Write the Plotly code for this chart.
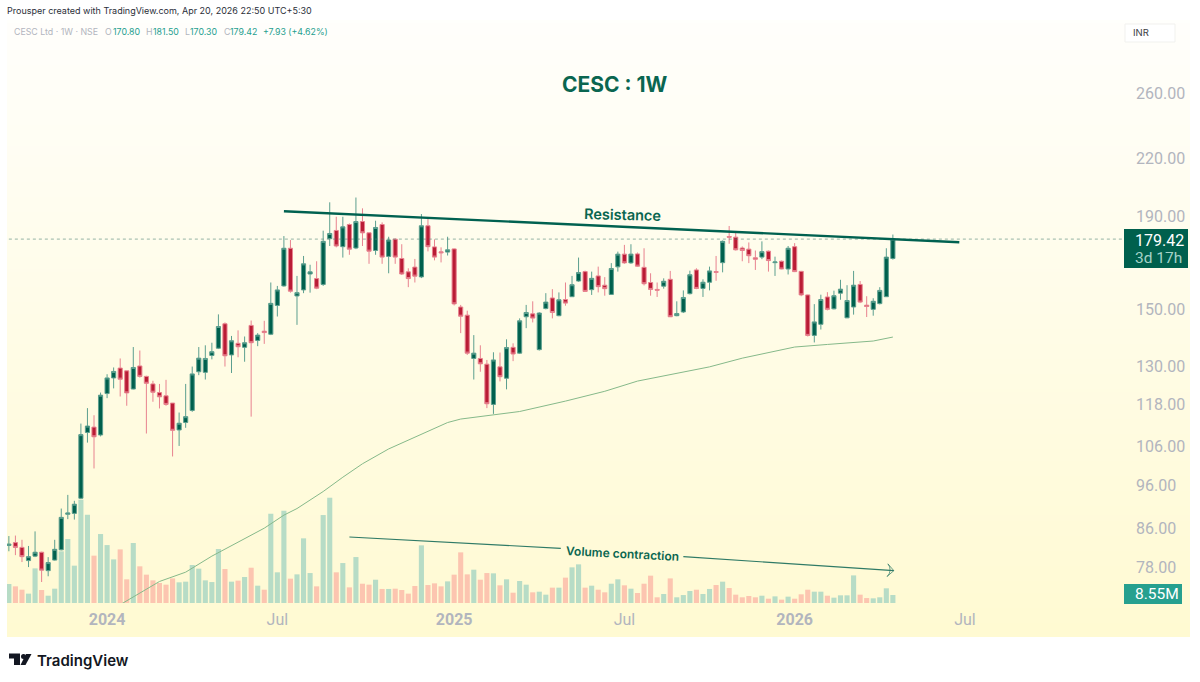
import numpy as np
import pandas as pd
import plotly.graph_objects as go

# weekly candles, CESC Ltd NSE
week_start = "2023-09-18"
n_weeks = 136

opens = [82.4,83.0,82.0,79.3,80.2,81.0,77.3,79.4,81.5,89.2,89.4,92.9,109.8,111.3,109.1,121.2,126.1,129.3,128.4,122.6,130.0,126.6,124.2,121.5,120.5,118.3,110.5,112.6,116.1,128.1,127.9,133.5,136.0,144.7,133.7,137.7,136.3,144.1,138.7,142.0,140.9,151.6,159.3,175.3,155.3,157.7,164.2,162.3,159.9,179.6,183.4,176.0,186.2,175.4,187.6,182.3,174.3,186.2,171.7,179.4,170.8,165.1,167.1,163.0,185.6,175.9,173.7,173.6,175.0,151.0,147.9,132.5,132.5,130.6,117.9,129.7,126.0,136.3,134.3,147.3,148.4,135.5,150.4,154.5,147.7,153.9,155.0,161.3,165.2,157.8,163.4,159.6,155.9,167.2,172.7,168.9,172.8,167.0,160.7,157.9,159.2,162.0,147.7,149.1,156.2,165.9,158.3,160.8,165.2,169.0,180.6,180.3,175.4,174.9,171.1,171.4,174.0,169.0,169.6,166.3,176.0,165.3,155.7,140.5,144.5,154.9,150.3,156.4,146.9,151.0,159.9,151.7,150.1,152.3,155.0,170.8]
highs = [84.4,84.5,83.6,82.3,85.4,81.1,80.0,83.6,90.5,93.7,92.3,112.3,116.8,114.7,121.5,127.3,129.5,132.5,128.4,136.4,135.2,126.8,125.2,124.2,125.5,118.3,115.5,124.2,129.8,136.4,137.0,137.9,148.2,145.2,140.3,142.3,140.1,145.9,141.3,145.8,160.7,159.3,180.8,179.0,163.4,171.9,168.1,169.6,183.3,197.0,189.9,189.9,186.7,199.4,194.0,182.3,188.0,187.2,180.5,179.7,177.1,166.6,170.6,191.2,189.6,179.3,175.7,180.5,175.2,151.8,149.6,140.6,137.0,132.0,134.6,134.5,139.1,137.7,146.7,151.8,153.2,149.0,156.4,158.0,156.7,160.7,163.4,171.2,165.6,165.2,167.3,162.9,168.8,173.8,176.8,177.1,173.4,175.3,164.5,160.7,162.4,165.5,153.2,157.5,165.6,166.6,162.0,167.3,171.9,178.8,185.5,182.8,176.1,177.9,174.3,178.4,174.3,171.6,169.9,176.3,177.6,165.5,155.8,152.1,155.8,156.8,157.4,161.8,159.6,165.5,161.3,155.2,154.4,158.8,175.3,181.5]
lows = [81.2,80.4,79.0,78.0,80.0,75.1,76.2,79.3,81.4,88.1,88.0,92.7,107.0,100.2,108.7,119.8,122.8,120.3,117.5,122.5,126.2,109.5,118.7,116.7,117.5,103.3,106.1,111.1,115.7,127.0,125.6,132.2,135.7,129.8,127.7,132.9,131.4,114.3,136.7,137.5,140.6,147.4,159.0,156.6,144.3,156.4,156.6,158.0,159.3,176.3,175.7,171.2,172.4,174.9,176.3,168.5,172.4,168.5,164.5,168.5,163.8,158.8,160.7,162.5,173.9,170.0,169.1,172.1,151.6,141.3,133.7,125.6,128.1,116.8,115.1,125.0,122.5,131.6,134.0,143.1,145.2,135.2,150.1,146.7,147.5,151.5,154.9,161.0,157.0,155.7,156.7,155.4,155.8,165.2,168.5,168.5,167.3,159.5,155.4,154.9,158.2,147.2,147.5,148.7,155.9,158.0,154.9,157.5,161.4,164.9,177.3,174.3,169.6,168.8,165.9,170.5,165.2,163.4,166.2,164.0,165.0,155.2,140.1,138.0,142.6,149.7,150.1,153.8,146.8,148.1,152.5,147.2,147.7,152.0,154.9,170.3]
closes = [82.7,82.0,80.1,80.1,81.0,77.4,78.9,81.6,88.5,89.5,91.5,109.2,111.6,108.6,120.7,126.1,128.2,125.7,121.4,129.5,126.6,124.4,121.6,120.2,117.9,110.4,112.4,114.3,127.4,132.6,132.5,134.8,143.7,133.4,138.6,136.5,137.9,137.9,140.6,141.5,152.4,157.7,175.3,157.2,156.6,168.5,165.1,158.4,178.4,182.0,176.3,185.1,174.9,187.6,182.3,174.0,184.8,171.4,179.0,171.4,164.2,162.3,163.3,185.6,176.0,171.4,173.3,174.6,152.2,147.5,134.3,134.3,130.7,118.1,132.0,126.5,136.2,134.0,145.8,148.9,146.8,148.7,152.9,148.9,153.8,152.5,159.8,164.8,157.1,162.4,159.0,158.2,166.5,172.7,168.9,172.7,167.5,160.2,157.9,157.6,161.2,147.3,148.5,154.7,163.9,158.3,160.8,165.5,164.9,178.4,180.3,174.6,174.3,172.0,170.5,173.8,169.9,169.3,166.3,175.3,165.2,155.7,140.5,145.4,153.9,150.1,155.4,158.0,153.5,159.6,152.9,151.2,153.2,157.5,171.4,179.42]
# volume in millions
volumes = [20.3,17.8,14.2,10.0,37.0,13.9,7.8,15.3,55.2,68.4,39.9,110.4,94.3,50.6,73.7,61.9,46.6,57.3,25.3,64.1,39.2,30.3,24.2,21.4,19.6,26.3,22.1,22.8,40.6,36.7,24.2,22.4,57.7,36.3,22.8,23.9,27.8,37.7,18.5,14.2,95.4,32.8,98.6,26.0,30.6,69.1,32.0,17.8,94.0,112.5,32.8,42.7,16.7,49.1,20.6,19.6,24.9,15.0,15.0,15.3,13.9,10.0,18.2,61.6,19.2,21.0,17.8,23.1,30.3,54.1,30.6,35.6,24.9,32.0,31.7,18.9,25.3,11.0,23.5,19.6,11.4,12.1,8.9,16.4,16.4,27.1,38.1,41.3,16.4,18.5,14.2,11.4,20.6,25.3,18.9,15.3,10.7,20.6,29.2,6.1,9.6,26.3,6.1,8.5,12.8,14.2,9.6,15.0,19.2,22.8,16.0,8.9,6.1,7.5,6.1,7.8,4.6,7.1,3.6,6.8,4.6,9.3,14.2,12.1,12.1,7.8,5.7,8.2,8.2,29.5,8.9,5.3,5.0,6.1,15.7,8.55]

# moving average read at these week numbers
ma_weeks = [17,19,23,27,31,39,42,44,48,51,54,58,62,67,69,74,78,85,91,96,100,107,112,120,125,132,135]
ma_values = [70.9,72.3,75.2,77.0,80.2,86.1,89.0,90.5,94.5,98.0,101.4,105.3,108.4,112.6,113.6,114.8,115.8,118.9,121.9,125.1,126.8,129.7,132.6,136.4,137.3,138.5,139.9]

res_dates = ["2024-07-08", "2026-06-30"]
res_prices = [192.6, 178.0]
vol_line_left_dates = ["2024-09-16", "2025-04-30"]
vol_line_left_prices = [84.2, 81.8]
vol_line_right_dates = ["2025-09-08", "2026-04-21"]
vol_line_right_prices = [80.1, 77.3]

last_price = 179.42
price_ticks = [78, 86, 96, 106, 118, 130, 150, 190, 220, 260]
date_ticks = ["2024-01-01", "2024-07-01", "2025-01-06", "2025-07-07", "2026-01-05", "2026-07-06"]
date_labels = ["<b>2024</b>", "Jul", "<b>2025</b>", "Jul", "<b>2026</b>", "Jul"]

assert len(opens) == len(highs) == len(lows) == len(closes) == len(volumes) == n_weeks

dates = pd.date_range(week_start, periods=n_weeks, freq="W-MON")
ma_dates = dates[ma_weeks]

W, H = 1200, 682
GREEN = "#00604d"
GREEN_TEXT = "#0a6650"
GREY = "#b2b5be"
FONT = "Inter"
AXIS_FONT = "Roboto"


def fx(px):
    return px / W


def fy(py):
    return 1 - py / H


def label(x, y, text, size, color, weight=400, anchor="left", angle=0, font=FONT):
    # annotations carry about 2px of padding on the left
    x = x - 2 if anchor == "left" else x
    fig.add_annotation(x=fx(x), y=fy(y), xref="paper", yref="paper", text=text, showarrow=False,
                       xanchor=anchor, yanchor="middle", textangle=angle,
                       font=dict(family=font, size=size, color=color, weight=weight))


def box(x0, y0, x1, y1, fill, line=None, layer="above"):
    fig.add_shape(type="rect", xref="paper", yref="paper", x0=fx(x0), x1=fx(x1), y0=fy(y0), y1=fy(y1),
                  fillcolor=fill, line=dict(width=1 if line else 0, color=line or fill), layer=layer)


fig = go.Figure()

up = np.array(closes) >= np.array(opens)
fig.add_trace(go.Bar(x=dates, y=volumes, yaxis="y", marker_color=np.where(up, "#b7dcc6", "#fcc5b0"),
                     marker_line_width=0))

fig.add_trace(go.Scatter(x=[dates[0], "2026-12-22"], y=[last_price, last_price], yaxis="y2", mode="lines",
                         line=dict(color="#4d8273", width=0.6, dash="dot")))
fig.add_trace(go.Scatter(x=ma_dates, y=ma_values, yaxis="y2", mode="lines",
                         line=dict(color="#86b98a", width=1)))
fig.add_trace(go.Candlestick(x=dates, open=opens, high=highs, low=lows, close=closes, yaxis="y2",
                             increasing=dict(fillcolor=GREEN, line=dict(color="#5c9f8f", width=1)),
                             decreasing=dict(fillcolor="#b91c35", line=dict(color="#e8828f", width=1))))
fig.add_trace(go.Scatter(x=res_dates, y=res_prices, yaxis="y2", mode="lines",
                         line=dict(color="#006150", width=2.4)))
fig.add_trace(go.Scatter(x=vol_line_left_dates, y=vol_line_left_prices, yaxis="y2", mode="lines",
                         line=dict(color="#2f7a66", width=1.1)))
fig.add_trace(go.Scatter(x=vol_line_right_dates, y=vol_line_right_prices, yaxis="y2", mode="lines+markers",
                         line=dict(color="#2f7a66", width=1.1),
                         marker=dict(symbol="arrow-wide-open", size=[0, 9], angleref="previous",
                                     color="#2f7a66", line=dict(color="#2f7a66", width=1))))

# pane background, pale at the top and yellow at the bottom
for py in range(20, 637, 3):
    t = (py - 20) / 617
    c = "rgb(255,%d,%d)" % (255 - 5 * t, 252 - 42 * t)
    box(7, py, 1190, min(py + 4, 637), c, layer="below")

# price and volume tags
box(1124, 229, 1188, 268, "#00604d")
box(1124, 584, 1182, 604, "#26a08f")
box(1125, 24, 1175, 42, "#ffffff", line="#f1f1ee")
label(1135, 240, "179.42", 16, "#ffffff", font=AXIS_FONT)
label(1135, 258, "3d 17h", 15.5, "#a5d3c8", font=AXIS_FONT)
label(1135, 594, "8.55M", 15.5, "#ffffff", font=AXIS_FONT)
label(1133, 33, "INR", 9.5, "#3a3d45")

# header text
label(7, 11, "Prousper created with TradingView.com, Apr 20, 2026 22:50 UTC+5:30", 9, "#2a2e39")
label(14, 32, "CESC Ltd · 1W · NSE", 8.8, "#b2b5be")
label(105, 32, "O", 8.8, "#b2b5be")
label(113, 32, "170.80", 8.8, "#26a08f")
label(146, 32, "H", 8.8, "#b2b5be")
label(153, 32, "181.50", 8.8, "#26a08f")
label(185, 32, "L", 8.8, "#b2b5be")
label(190, 32, "170.30", 8.8, "#26a08f")
label(224, 32, "C", 8.8, "#b2b5be")
label(230, 32, "179.42", 8.8, "#26a08f")
label(263, 32, "+7.93 (+4.62%)", 8.8, "#26a08f")

label(615, 84, "CESC : 1W", 21, GREEN_TEXT, weight=700, anchor="center")
label(622, 215, "Resistance", 14.5, GREEN_TEXT, weight=600, anchor="center", angle=1.5)
label(622, 553, "Volume contraction", 12, GREEN_TEXT, weight=600, anchor="center", angle=3)

# TradingView logo
logo = [(9, 653.5), (20, 653.5), (20, 665), (14, 665), (14, 658.5), (9, 658.5)]
slant = [(26, 654), (31.5, 654), (25.5, 665), (20.5, 665)]
for pts in (logo, slant):
    path = "M " + " L ".join("%.5f,%.5f" % (fx(a), fy(b)) for a, b in pts) + " Z"
    fig.add_shape(type="path", xref="paper", yref="paper", path=path, fillcolor="#131722", line_width=0)
fig.add_shape(type="circle", xref="paper", yref="paper", x0=fx(21), x1=fx(26), y0=fy(654), y1=fy(659),
              fillcolor="#131722", line_width=0)
label(37, 660, "TradingView", 15, "#131722", weight=600)

fig.update_layout(
    width=W, height=H,
    margin=dict(l=0, r=0, t=0, b=0),
    paper_bgcolor="#ffffff",
    plot_bgcolor="rgba(0,0,0,0)",
    showlegend=False,
    hovermode=False,
    bargap=0.22,
    boxgap=0.1,
    xaxis=dict(domain=[fx(7), fx(1123)], anchor="y", type="date", range=["2023-09-16", "2026-12-22"],
               rangeslider=dict(visible=False), showgrid=False, zeroline=False, showline=False, ticks="",
               tickvals=date_ticks, ticktext=date_labels, ticklabelstandoff=5,
               tickfont=dict(family=AXIS_FONT, size=16, color=GREY)),
    yaxis=dict(domain=[fy(603), fy(20)], range=[0, 623], visible=False, fixedrange=True),
    yaxis2=dict(domain=[fy(603), fy(20)], type="log", overlaying="y", side="right", anchor="x",
                range=[np.log10(71.2), np.log10(313)], showgrid=False, zeroline=False, showline=False, ticks="",
                tickvals=price_ticks, ticktext=["%.2f" % p for p in price_ticks], ticklabelstandoff=12,
                tickfont=dict(family=AXIS_FONT, size=16, color=GREY)),
)

fig.write_html("out.html", config=dict(displayModeBar=False), post_script="document.body.style.margin='0';")
